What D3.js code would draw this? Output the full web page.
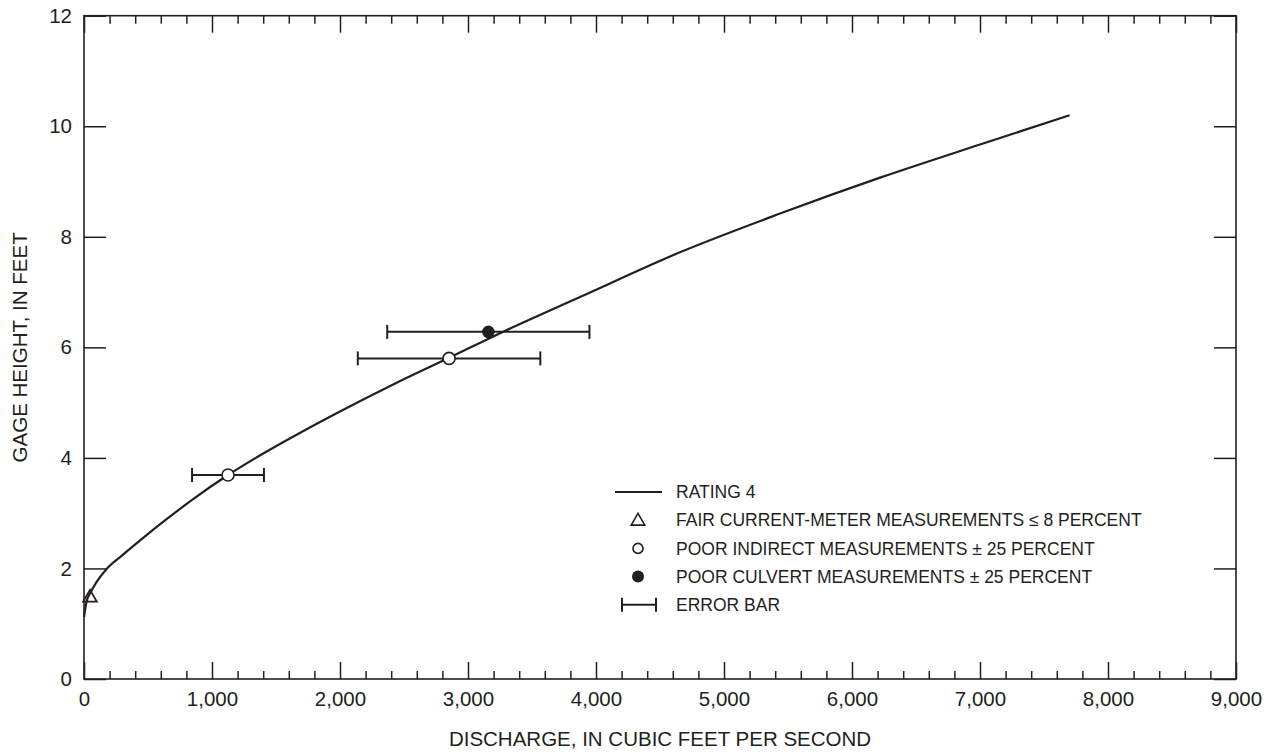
<!DOCTYPE html>
<html>
<head>
<meta charset="utf-8">
<script src="https://cdn.jsdelivr.net/npm/d3@7"></script>
<style>
  body { margin: 0; background: #fff; }
  text { font-family: "Liberation Sans", Arial, Helvetica, sans-serif; }
</style>
</head>
<body>
<svg id="chart" width="1275" height="754"></svg>
<script>
// Rating curve 4: discharge (cfs) against gage height (ft)
const ratingQ  = [0, 20, 50, 100, 180, 300, 450, 650, 850, 1125, 1400, 1700, 2000, 2400, 2852, 3300, 3875, 4656, 5438, 6219, 7000, 7700];
const ratingGH = [1.12, 1.40, 1.56, 1.76, 2.0, 2.24, 2.53, 2.90, 3.25, 3.69, 4.08, 4.47, 4.84, 5.31, 5.81, 6.31, 6.91, 7.72, 8.42, 9.07, 9.67, 10.2];

// Fair current-meter measurement
const meterQ  = [47];
const meterGH = [1.47];

// Poor indirect measurements with error range
const indirectQ  = [1125, 2852];
const indirectGH = [3.69, 5.80];
const indirectLo = [844, 2139];
const indirectHi = [1406, 3565];

// Poor culvert measurement with error range
const culvertQ  = [3159];
const culvertGH = [6.28];
const culvertLo = [2369];
const culvertHi = [3949];

// Axis ticks
const xMajorTicks = [0, 1000, 2000, 3000, 4000, 5000, 6000, 7000, 8000, 9000];
const xMinorTicks = [200, 400, 600, 800, 1200, 1400, 1600, 1800, 2200, 2400, 2600, 2800,
                     3200, 3400, 3600, 3800, 4200, 4400, 4600, 4800, 5200, 5400, 5600, 5800,
                     6200, 6400, 6600, 6800, 7200, 7400, 7600, 7800, 8200, 8400, 8600, 8800];
const yTicks = [0, 2, 4, 6, 8, 10, 12];

const legendLabels = [
  "RATING 4",
  "FAIR CURRENT-METER MEASUREMENTS \u2264 8 PERCENT",
  "POOR INDIRECT MEASUREMENTS \u00B1 25 PERCENT",
  "POOR CULVERT MEASUREMENTS \u00B1 25 PERCENT",
  "ERROR BAR"
];

const ink = "#231f20";
const font = "'Liberation Sans', Arial, Helvetica, sans-serif";
const svg = d3.select("#chart");
svg.append("rect").attr("width", 1275).attr("height", 754).attr("fill", "#fff");

const plotLeft = 84, plotRight = 1236, plotTop = 15.7, plotBottom = 679;
const x = d3.scaleLinear().domain([0, 9000]).range([plotLeft, plotRight]);
const y = d3.scaleLinear().domain([0, 12]).range([plotBottom, plotTop]);

const noLabel = () => "";

// Axis titles
svg.append("text")
  .attr("x", (plotLeft + plotRight) / 2).attr("y", 746)
  .attr("text-anchor", "middle").attr("font-size", 20.5).attr("fill", ink)
  .text("DISCHARGE, IN CUBIC FEET PER SECOND");
svg.append("text")
  .attr("transform", `translate(27,${(plotTop + plotBottom) / 2}) rotate(-90)`)
  .attr("text-anchor", "middle").attr("font-size", 20.5).attr("fill", ink)
  .text("GAGE HEIGHT, IN FEET");

// Rating curve
const rating = ratingQ.map((q, i) => [q, ratingGH[i]]);
svg.append("path")
  .datum(rating)
  .attr("fill", "none").attr("stroke", ink).attr("stroke-width", 2.2)
  .attr("stroke-linejoin", "round")
  .attr("d", d3.line().x(d => x(d[0])).y(d => y(d[1])).curve(d3.curveMonotoneX));

// Error bars
function errorBar(g, lo, hi, gh) {
  const yy = y(gh);
  g.append("line").attr("x1", x(lo)).attr("x2", x(hi)).attr("y1", yy).attr("y2", yy)
    .attr("stroke", ink).attr("stroke-width", 2);
  [lo, hi].forEach(v => {
    g.append("line").attr("x1", x(v)).attr("x2", x(v)).attr("y1", yy - 7).attr("y2", yy + 7)
      .attr("stroke", ink).attr("stroke-width", 2);
  });
}
const bars = svg.append("g");
indirectQ.forEach((q, i) => errorBar(bars, indirectLo[i], indirectHi[i], indirectGH[i]));
culvertQ.forEach((q, i) => errorBar(bars, culvertLo[i], culvertHi[i], culvertGH[i]));

// Measurement markers
const tri = d3.symbol().type(d3.symbolTriangle).size(80);
meterQ.forEach((q, i) => {
  svg.append("path").attr("d", tri())
    .attr("transform", `translate(${x(q)},${y(meterGH[i])})`)
    .attr("fill", "none").attr("stroke", ink).attr("stroke-width", 1.8);
});
indirectQ.forEach((q, i) => {
  svg.append("circle").attr("cx", x(q)).attr("cy", y(indirectGH[i])).attr("r", 6)
    .attr("fill", "#fff").attr("stroke", ink).attr("stroke-width", 1.6);
});
culvertQ.forEach((q, i) => {
  svg.append("circle").attr("cx", x(q)).attr("cy", y(culvertGH[i])).attr("r", 6.3)
    .attr("fill", ink);
});

// Legend
const lg = svg.append("g").attr("transform", "translate(638,492)");
const rowH = 28.2;
legendLabels.forEach((label, i) => {
  lg.append("text").attr("x", 38).attr("y", i * rowH).attr("dy", "0.35em")
    .attr("font-size", 17.5).attr("fill", ink).text(label);
});
lg.append("line").attr("x1", -23).attr("x2", 24).attr("y1", 0).attr("y2", 0)
  .attr("stroke", ink).attr("stroke-width", 1.8);
lg.append("path").attr("d", tri()).attr("transform", `translate(0,${rowH + 1})`)
  .attr("fill", "none").attr("stroke", ink).attr("stroke-width", 1.6);
lg.append("circle").attr("cx", 0).attr("cy", rowH * 2).attr("r", 5)
  .attr("fill", "#fff").attr("stroke", ink).attr("stroke-width", 1.6);
lg.append("circle").attr("cx", 0).attr("cy", rowH * 3).attr("r", 6)
  .attr("fill", ink);
lg.append("line").attr("x1", -16).attr("x2", 18).attr("y1", rowH * 4).attr("y2", rowH * 4)
  .attr("stroke", ink).attr("stroke-width", 2);
[-16, 18].forEach(v => {
  lg.append("line").attr("x1", v).attr("x2", v).attr("y1", rowH * 4 - 7).attr("y2", rowH * 4 + 7)
    .attr("stroke", ink).attr("stroke-width", 2);
});

// Plot frame
svg.append("rect")
  .attr("x", plotLeft).attr("y", plotTop)
  .attr("width", plotRight - plotLeft).attr("height", plotBottom - plotTop)
  .attr("fill", "none").attr("stroke", ink).attr("stroke-width", 1.6);

// Axes go on top of everything; every tick points inward from the frame
function drawAxis(axis, tx, ty, size) {
  const g = svg.append("g").attr("transform", `translate(${tx},${ty})`).call(axis);
  g.selectAll(".tick line")
    .attr("stroke", ink).attr("stroke-width", 1.5).attr("x1", 0).attr("y1", 0);
  g.selectAll(".tick text")
    .attr("fill", ink).attr("font-size", size).attr("font-family", font);
  g.select(".domain").remove();
  return g;
}

// Bottom: labelled majors and short minors
drawAxis(d3.axisBottom(x).tickValues(xMajorTicks).tickSize(-17).tickSizeOuter(0)
           .tickPadding(12).tickFormat(d3.format(",")), 0, plotBottom, 20.5);
drawAxis(d3.axisBottom(x).tickValues(xMinorTicks).tickSize(-8).tickSizeOuter(0)
           .tickFormat(noLabel), 0, plotBottom, 10);

// Top: same ticks, hanging down from the frame
drawAxis(d3.axisTop(x).tickValues(xMajorTicks).tickSize(-17).tickSizeOuter(0)
           .tickFormat(noLabel), 0, plotTop, 10);
drawAxis(d3.axisTop(x).tickValues(xMinorTicks).tickSize(-8).tickSizeOuter(0)
           .tickFormat(noLabel), 0, plotTop, 10);

// Left: labels and inward ticks
drawAxis(d3.axisLeft(y).tickValues(yTicks).tickSize(-22).tickSizeOuter(0)
           .tickPadding(12), plotLeft, 0, 20.5);

// Right: ticks only
drawAxis(d3.axisRight(y).tickValues(yTicks).tickSize(-22).tickSizeOuter(0)
           .tickFormat(noLabel), plotRight, 0, 10);
</script>
</body>
</html>
